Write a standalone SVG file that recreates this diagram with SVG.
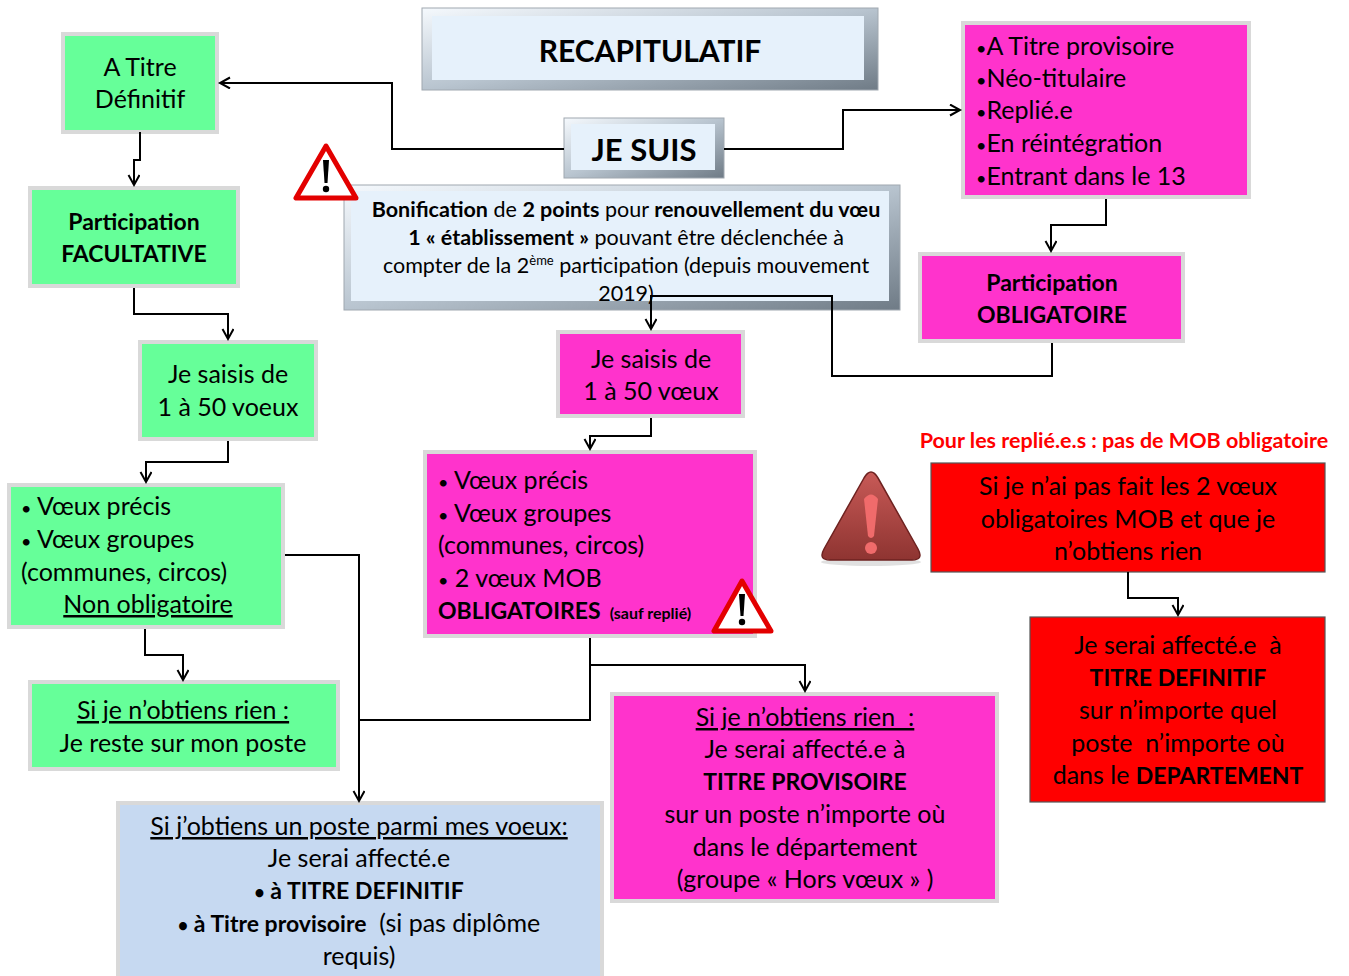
<svg xmlns="http://www.w3.org/2000/svg" width="1349" height="976" viewBox="0 0 1349 976">
<defs>
<style>
text{font-family:Lato,"Open Sans","Liberation Sans",sans-serif;fill:#000;white-space:pre}
.t{font-size:25px}
.c{text-anchor:middle}
.b{font-weight:700;font-size:23px}
.u{text-decoration:underline}
.dot{font-size:18px}
.g{fill:#66ff99;stroke:#d9d9d9;stroke-width:4}
.p{fill:#ff33cc;stroke:#d9d9d9;stroke-width:4}
.bl{fill:#c6d9f1;stroke:#d9d9d9;stroke-width:4}
.r{fill:#ff0000;stroke:#555;stroke-width:1.2}
.bev{fill:url(#bevg);stroke:#a0a8b0;stroke-width:1}
.bin{fill:#e6f1fb}
.bo{font-size:21.5px}
.bo .b{font-size:21.5px}
.conn{fill:none;stroke:#000;stroke-width:2}
</style>
<linearGradient id="bevg" x1="0" y1="0" x2="1" y2="1">
<stop offset="0" stop-color="#f5f9fd"/>
<stop offset="0.5" stop-color="#b8c4cf"/>
<stop offset="1" stop-color="#6f7b86"/>
</linearGradient>
<linearGradient id="warn" x1="0" y1="0" x2="0" y2="1">
<stop offset="0" stop-color="#c85a57"/>
<stop offset="1" stop-color="#8e3431"/>
</linearGradient>
<marker id="arr" markerUnits="userSpaceOnUse" markerWidth="14" markerHeight="14" refX="11" refY="6" orient="auto">
<path d="M1,0.5 L11,6 L1,11.5" fill="none" stroke="#000" stroke-width="2"/>
</marker>
</defs>
<rect width="1349" height="976" fill="#fff"/>

<g id="recap">
<rect class="bev" x="422" y="8" width="456" height="82"/>
<rect class="bin" x="432" y="16" width="432" height="64"/>
<text class="c" x="650" y="62" font-size="30" font-weight="700">RECAPITULATIF</text>
</g>

<g id="jesuis">
<rect class="bev" x="564" y="118" width="160" height="60"/>
<rect class="bin" x="571" y="124" width="144" height="46"/>
<text class="c" x="644" y="161" font-size="31" font-weight="700">JE SUIS</text>
</g>

<g id="bonif">
<rect class="bev" x="344" y="185" width="556" height="125"/>
<rect class="bin" x="351" y="191" width="538" height="110"/>
<text class="c bo" x="626" y="217"><tspan class="b">Bonification</tspan> de <tspan class="b">2 points</tspan> pour <tspan class="b">renouvellement du vœu</tspan></text>
<text class="c bo" x="626" y="245"><tspan class="b">1 « établissement »</tspan> pouvant être déclenchée à</text>
<text class="c bo" x="626" y="273">compter de la 2<tspan font-size="13" dy="-8">ème</tspan><tspan dy="8"> participation (depuis mouvement</tspan></text>
<text class="c bo" x="626" y="301">2019)</text>
</g>

<g id="warn1">
<polygon points="326,146 296,198 356,198" fill="#fff" stroke="#e30000" stroke-width="5" stroke-linejoin="round"/>
<path d="M323,160 L329,160 L327.5,183 L324.5,183 Z" fill="#000"/>
<circle cx="326" cy="189" r="3.2" fill="#000"/>
</g>

<g id="atitre">
<rect class="g" x="63" y="34" width="154" height="98"/>
<text class="t c" x="140" y="76">A Titre</text>
<text class="t c" x="140" y="108">Définitif</text>
</g>

<g id="facult">
<rect class="g" x="30" y="188" width="208" height="98"/>
<text class="c b" x="134" y="230">Participation</text>
<text class="c b" x="134" y="262">FACULTATIVE</text>
</g>

<g id="saisis1">
<rect class="g" x="140" y="342" width="176" height="97"/>
<text class="t c" x="228" y="383">Je saisis de</text>
<text class="t c" x="228" y="416">1 à 50 voeux</text>
</g>

<g id="voeux1">
<rect class="g" x="9" y="485" width="274" height="142"/>
<text class="t" x="21" y="515"><tspan class="dot">•</tspan> Vœux précis</text>
<text class="t" x="21" y="548"><tspan class="dot">•</tspan> Vœux groupes</text>
<text class="t" x="21" y="581">(communes, circos)</text>
<text class="t c u" x="148" y="613">Non obligatoire</text>
</g>

<g id="rien1">
<rect class="g" x="30" y="682" width="308" height="87"/>
<text class="t c u" x="183" y="719">Si je n’obtiens rien :</text>
<text class="t c" x="183" y="752">Je reste sur mon poste</text>
</g>

<g id="obtiens">
<rect class="bl" x="118" y="803" width="484" height="190"/>
<text class="t c u" x="359" y="835">Si j’obtiens un poste parmi mes voeux:</text>
<text class="t c" x="359" y="867">Je serai affecté.e</text>
<text class="c b" x="359" y="899"><tspan class="dot">•</tspan> à TITRE DEFINITIF</text>
<text class="t c" x="359" y="932"><tspan class="b"><tspan class="dot">•</tspan> à Titre provisoire</tspan>  (si pas diplôme</text>
<text class="t c" x="359" y="965">requis)</text>
</g>

<g id="statuts">
<rect class="p" x="963" y="23" width="286" height="174"/>
<text class="t" x="976" y="55"><tspan class="dot">•</tspan>A Titre provisoire</text>
<text class="t" x="976" y="87"><tspan class="dot">•</tspan>Néo-titulaire</text>
<text class="t" x="976" y="119"><tspan class="dot">•</tspan>Replié.e</text>
<text class="t" x="976" y="152"><tspan class="dot">•</tspan>En réintégration</text>
<text class="t" x="976" y="185"><tspan class="dot">•</tspan>Entrant dans le 13</text>
</g>

<g id="oblig">
<rect class="p" x="920" y="254" width="263" height="87"/>
<text class="c b" x="1052" y="291">Participation</text>
<text class="c b" x="1052" y="323">OBLIGATOIRE</text>
</g>

<g id="saisis2">
<rect class="p" x="558" y="332" width="185" height="84"/>
<text class="t c" x="651" y="368">Je saisis de</text>
<text class="t c" x="651" y="400">1 à 50 vœux</text>
</g>

<g id="voeux2">
<rect class="p" x="425" y="452" width="330" height="184"/>
<text class="t" x="438" y="489"><tspan class="dot">•</tspan> Vœux précis</text>
<text class="t" x="438" y="522"><tspan class="dot">•</tspan> Vœux groupes</text>
<text class="t" x="438" y="554">(communes, circos)</text>
<text class="t" x="438" y="587"><tspan class="dot">•</tspan> 2 vœux MOB</text>
<text class="t" x="438" y="619"><tspan class="b">OBLIGATOIRES</tspan><tspan font-weight="700" font-size="16" dx="9">(sauf replié)</tspan></text>
</g>

<g id="warn2">
<polygon points="742,581 714,631 771,631" fill="#fff" stroke="#e30000" stroke-width="5" stroke-linejoin="round"/>
<path d="M739,594 L745,594 L743.5,616 L740.5,616 Z" fill="#000"/>
<circle cx="742" cy="622" r="3.2" fill="#000"/>
</g>

<g id="rien2">
<rect class="p" x="612" y="694" width="385" height="207"/>
<text class="t c u" x="805" y="726">Si je n’obtiens rien  :</text>
<text class="t c" x="805" y="758">Je serai affecté.e à</text>
<text class="c b" x="805" y="790">TITRE PROVISOIRE</text>
<text class="t c" x="805" y="823">sur un poste n’importe où</text>
<text class="t c" x="805" y="856">dans le département</text>
<text class="t c" x="805" y="888">(groupe « Hors vœux » )</text>
</g>

<g id="replies">
<text x="1124" y="448" font-size="21.5" font-weight="700" text-anchor="middle" style="fill:#ff0000">Pour les replié.e.s : pas de MOB obligatoire</text>
</g>

<g id="warn3">
<ellipse cx="871" cy="562" rx="50" ry="4" fill="#000" opacity="0.12"/>
<path d="M864,478 Q871,466 878,478 L918,549 Q924,560 912,560 L830,560 Q818,560 824,549 Z" fill="url(#warn)" stroke="#6e2220" stroke-width="1.5"/>
<path d="M864,499 Q871,490 878,499 L874,536 Q871,540 868,536 Z" fill="#f06b6b"/>
<circle cx="871" cy="548" r="6" fill="#f06b6b"/>
</g>

<g id="mob">
<rect class="r" x="931" y="463" width="394" height="109"/>
<text class="t c" x="1128" y="495">Si je n’ai pas fait les 2 vœux</text>
<text class="t c" x="1128" y="528">obligatoires MOB et que je</text>
<text class="t c" x="1128" y="560">n’obtiens rien</text>
</g>

<g id="affecte">
<rect class="r" x="1030" y="617" width="295" height="185"/>
<text class="t c" x="1178" y="654">Je serai affecté.e  à</text>
<text class="c b" x="1178" y="686">TITRE DEFINITIF</text>
<text class="t c" x="1178" y="719">sur n’importe quel</text>
<text class="t c" x="1178" y="752">poste  n’importe où</text>
<text class="t c" x="1178" y="784">dans le <tspan class="b">DEPARTEMENT</tspan></text>
</g>

<g id="connectors">
<path class="conn" d="M564,149 H392 V83 H220" marker-end="url(#arr)"/>
<path class="conn" d="M724,149 H843 V110 H960" marker-end="url(#arr)"/>
<path class="conn" d="M140,132 V160 H134 V185" marker-end="url(#arr)"/>
<path class="conn" d="M134,288 V314 H228 V339" marker-end="url(#arr)"/>
<path class="conn" d="M228,441 V462 H146 V482" marker-end="url(#arr)"/>
<path class="conn" d="M145,629 V655 H183 V680" marker-end="url(#arr)"/>
<path class="conn" d="M285,555 H359 V801" marker-end="url(#arr)"/>
<path class="conn" d="M590,638 V720 H359"/>
<path class="conn" d="M590,665 H805 V691" marker-end="url(#arr)"/>
<path class="conn" d="M1106,199 V225 H1051 V251" marker-end="url(#arr)"/>
<path class="conn" d="M1052,343 V376 H832 V296 H651 V329" marker-end="url(#arr)"/>
<path class="conn" d="M651,418 V436 H590 V449" marker-end="url(#arr)"/>
<path class="conn" d="M1128,572 V598 H1178 V615" marker-end="url(#arr)"/>
</g>
</svg>
